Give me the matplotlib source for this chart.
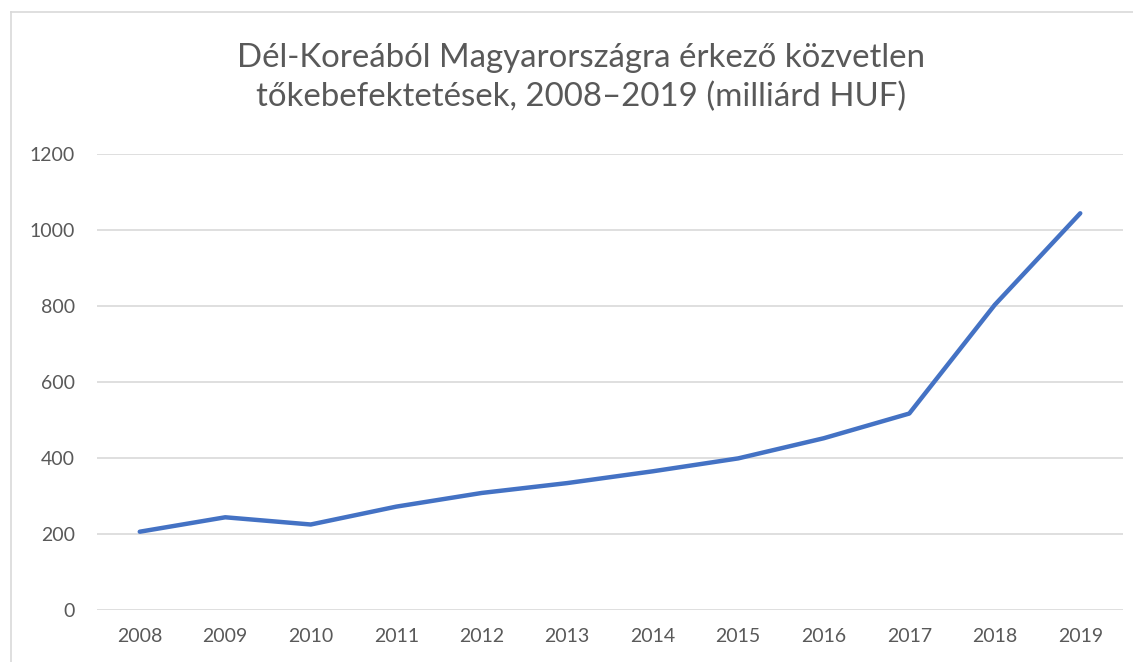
import matplotlib.pyplot as plt
from matplotlib.lines import Line2D

# data (milliard HUF)
years = ["2008", "2009", "2010", "2011", "2012", "2013",
         "2014", "2015", "2016", "2017", "2018", "2019"]
values = [206, 244, 225, 272, 308, 334, 365, 399, 452, 517, 803, 1044]
y_ticks = [0, 200, 400, 600, 800, 1000, 1200]

title = "Dél-Koreából Magyarországra érkező közvetlen\ntőkebefektetések, 2008–2019 (milliárd HUF)"

plt.rcParams["font.family"] = ["Lato", "DejaVu Sans"]

W, H = 1133, 662
fig = plt.figure(figsize=(W / 100, H / 100), dpi=100)
ax = fig.add_axes([97 / W, 1 - 610 / H, (1123 - 97) / W, (610 - 154) / H])

x = list(range(len(years)))
ax.plot(x, values, color="#4472C4", linewidth=3.2, solid_capstyle="round",
        solid_joinstyle="round", zorder=3)

ax.set_xlim(-0.5, len(years) - 0.5)
ax.set_ylim(0, 1200)
ax.set_yticks(y_ticks)
ax.set_xticks(x)
ax.set_xticklabels(years)
ax.yaxis.grid(True, color="#D9D9D9", linewidth=1.2)
ax.set_axisbelow(True)
for s in ax.spines.values():
    s.set_visible(False)
ax.tick_params(axis="both", length=0, labelsize=14, colors="#595959")
ax.tick_params(axis="x", pad=13)
ax.tick_params(axis="y", pad=16)

fig.text(581 / W, 1 - 78 / H, title, ha="center", va="center",
         fontsize=23.8, color="#595959", linespacing=1.36)

# light frame (only left and top edges visible in the reference)
fig.add_artist(Line2D([11 / W, 11 / W], [0, 1 - 12 / H], transform=fig.transFigure,
                      color="#D9D9D9", linewidth=1.2))
fig.add_artist(Line2D([11 / W, 1], [1 - 12 / H, 1 - 12 / H], transform=fig.transFigure,
                      color="#D9D9D9", linewidth=1.2))

fig.savefig("out.png", dpi=100, facecolor="white")
